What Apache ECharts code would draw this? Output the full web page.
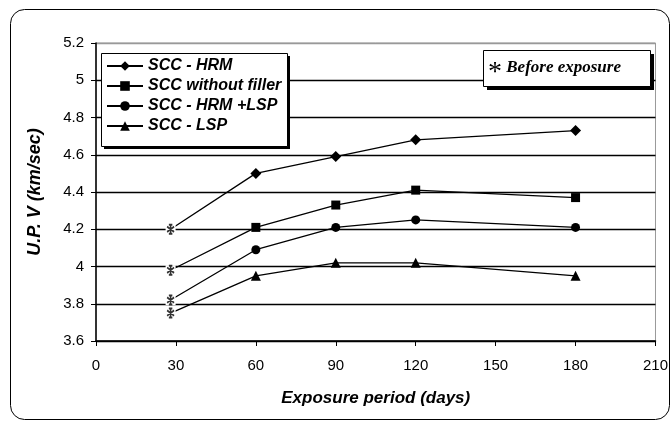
<!DOCTYPE html>
<html>
<head>
<meta charset="utf-8">
<script src="https://cdn.jsdelivr.net/npm/echarts@6/dist/echarts.min.js"></script>
<style>
  html, body { margin: 0; padding: 0; background: #fff; }
  #chart { width: 671px; height: 421px; }
</style>
</head>
<body>
<div id="chart"></div>
<script>
// exposure days (first point = before exposure, drawn a bit left of 30)
const days = [28, 60, 90, 120, 180];
const seriesNames = ['SCC - HRM', 'SCC without filler', 'SCC - HRM +LSP', 'SCC - LSP'];
const hrm = [4.20, 4.50, 4.59, 4.68, 4.73];
const noFiller = [3.98, 4.21, 4.33, 4.41, 4.37];
const hrmLsp = [3.82, 4.09, 4.21, 4.25, 4.21];
const lsp = [3.75, 3.95, 4.02, 4.02, 3.95];
const symbols = ['diamond', 'rect', 'circle', 'triangle'];
const symbolSizes = [11, 9, 9, 10];

const starPath = 'path://M5,0 L5,10 M1,2 L9,8 M1,8 L9,2 M3,0 L7,0 M3,10 L7,10';
const font = 'Liberation Sans, Arial, sans-serif';

const allValues = [hrm, noFiller, hrmLsp, lsp];

const lineSeries = allValues.map((vals, i) => ({
  name: seriesNames[i],
  type: 'line',
  symbol: symbols[i],
  symbolSize: symbolSizes[i],
  itemStyle: { color: '#000' },
  lineStyle: { color: '#000', width: 1.3 },
  z: 3,
  data: vals.map((v, j) => j === 0
    ? { value: [days[j], v], symbol: 'rect', symbolSize: 10, itemStyle: { color: '#fff' } }
    : [days[j], v])
}));

const starSeries = allValues.map(vals => ({
  type: 'scatter',
  symbol: starPath,
  symbolSize: [7, 9],
  itemStyle: { color: 'transparent', borderColor: '#000', borderWidth: 1.7 },
  z: 5,
  silent: true,
  data: [[days[0], vals[0]]]
}));

const chart = echarts.init(document.getElementById('chart'));
chart.setOption({
  animation: false,
  grid: { left: 96, right: 12, top: 43, bottom: 80, show: true, borderColor: '#999', borderWidth: 1 },
  xAxis: {
    type: 'value', min: 0, max: 210, interval: 30,
    name: 'Exposure period (days)', nameLocation: 'middle', nameGap: 49,
    nameTextStyle: { fontFamily: font, fontSize: 17, fontWeight: 'bold', fontStyle: 'italic', color: '#000' },
    axisLine: { lineStyle: { color: '#000', width: 1.5 } },
    axisTick: { lineStyle: { color: '#000' }, length: 5 },
    axisLabel: { fontFamily: font, fontSize: 15, color: '#000', margin: 17 },
    splitLine: { show: false }
  },
  yAxis: {
    type: 'value', min: 3.6, max: 5.2, interval: 0.2,
    name: 'U.P. V (km/sec)', nameLocation: 'middle', nameGap: 52,
    nameTextStyle: { fontFamily: font, fontSize: 18, fontWeight: 'bold', fontStyle: 'italic', color: '#000' },
    axisLine: { lineStyle: { color: '#000', width: 1.5 } },
    axisTick: { show: true, lineStyle: { color: '#000' }, length: 5 },
    axisLabel: { fontFamily: font, fontSize: 15, color: '#000', margin: 12,
      formatter: v => String(Math.round(v * 10) / 10) },
    splitLine: { lineStyle: {
      color: ['#000', '#000', '#000', '#000', '#000', '#000', '#000', '#000', '#999'], width: 1.4 } }
  },
  legend: {
    orient: 'vertical', left: 106, top: 58, z: 200,
    data: seriesNames,
    itemWidth: 36, itemHeight: 12, itemGap: 4, padding: 0,
    textStyle: { fontFamily: font, fontSize: 16, fontWeight: 'bold', fontStyle: 'italic', color: '#000' }
  },
  graphic: [
    { type: 'rect', z: 100, shape: { x: 10.5, y: 9.5, width: 659, height: 410, r: 14 },
      style: { fill: 'none', stroke: '#000', lineWidth: 1 } },
    // legend box with shadow
    { type: 'rect', z: 100, shape: { x: 104, y: 56, width: 186, height: 93 }, style: { fill: '#000' } },
    { type: 'rect', z: 101, shape: { x: 101.5, y: 53.5, width: 186, height: 93 },
      style: { fill: '#fff', stroke: '#000', lineWidth: 1 } },
    // note box with shadow
    { type: 'rect', z: 100, shape: { x: 487, y: 54, width: 167, height: 36 }, style: { fill: '#000' } },
    { type: 'rect', z: 101, shape: { x: 483.5, y: 50.5, width: 167, height: 36 },
      style: { fill: '#fff', stroke: '#000', lineWidth: 1 } },
    { type: 'text', z: 102, left: 488, top: 59,
      style: {
        text: '{s|*}{t| Before exposure}',
        rich: {
          s: { fontFamily: 'Liberation Serif, serif', fontSize: 28, fill: '#000', padding: [10, 0, 0, 0] },
          t: { fontFamily: 'Liberation Serif, serif', fontSize: 17, fontWeight: 'bold', fontStyle: 'italic', fill: '#000' }
        }
      } }
  ],
  series: lineSeries.concat(starSeries)
});
</script>
</body>
</html>
